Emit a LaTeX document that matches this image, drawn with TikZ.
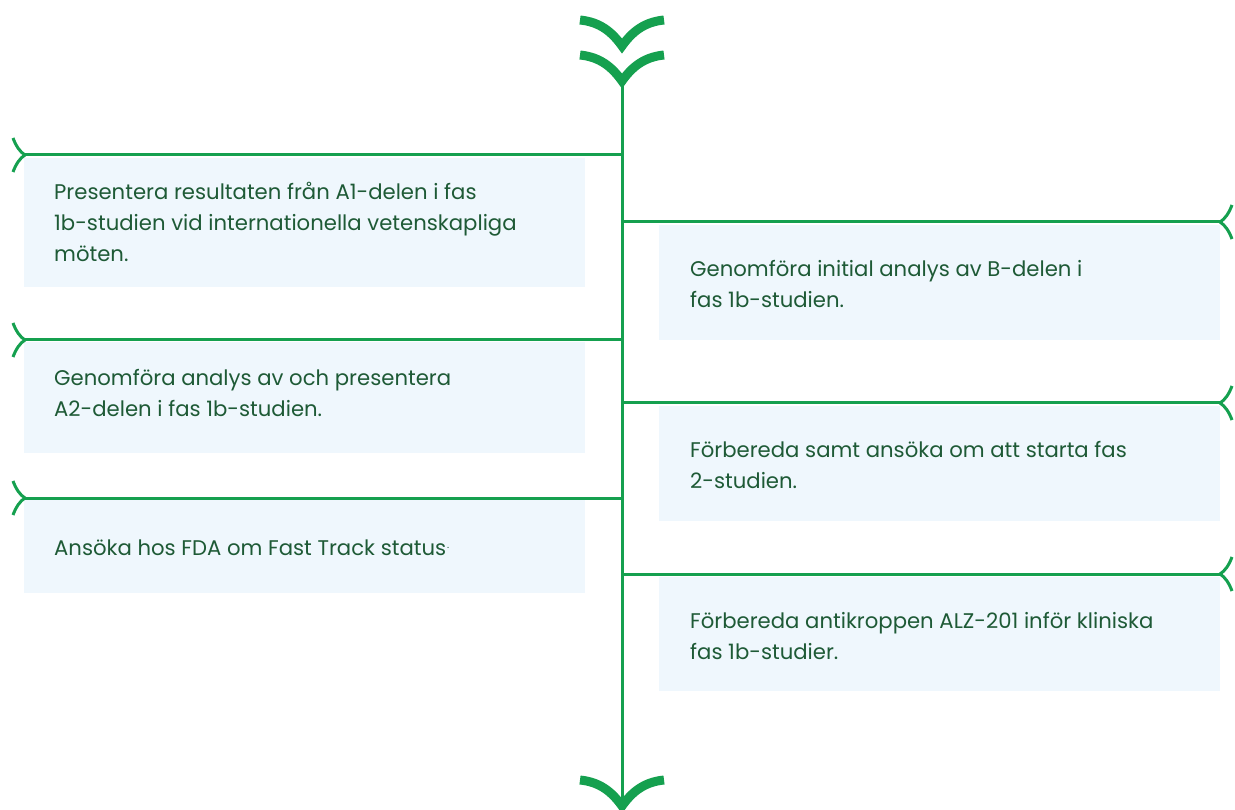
\documentclass[tikz,border=0pt]{standalone}
\usepackage{fontspec}
\setmainfont{Poppins}
\usetikzlibrary{positioning}

\definecolor{tlgreen}{HTML}{15A04F}
\definecolor{tltext}{HTML}{1E5A36}
\definecolor{tlbox}{HTML}{EFF7FD}

\tikzset{
  stem/.style={draw=tlgreen, line width=3pt},
  chev/.style={draw=tlgreen, line width=9pt, line join=miter},
  box/.style={fill=tlbox, inner sep=0pt, anchor=north west},
  % base of a multi-line node sits on its last line
  txt/.style={text=tltext, inner sep=0pt, anchor=base west, align=left,
    font=\fontsize{21.2}{31}\selectfont}
}

\begin{document}
\begin{tikzpicture}[x=1pt, y=-1pt]
\useasboundingbox (0,0) rectangle (1235,810);

% boxes
\node[box, minimum width=561pt, minimum height=129pt] (lbox1) at (24,158) {};
\node[box, minimum width=561pt, minimum height=111pt] (lbox2) at (24,342) {};
\node[box, minimum width=561pt, minimum height=93pt] (lbox3) at (24,500) {};
\node[box, minimum width=561pt, minimum height=115pt] (rbox1) at (659,225) {};
\node[box, minimum width=561pt, minimum height=115pt] (rbox2) at (659,406) {};
\node[box, minimum width=561pt, minimum height=114pt] (rbox3) at (659,577) {};

% spine with chevrons
\coordinate (top) at (622,85);
\coordinate (bot) at (622,805);
\draw[stem] (top) -- (bot);
\foreach \y in {0,35,760}
  \draw[chev] (580,20+\y) .. controls (600,22+\y) and (612,32+\y) .. (622,46+\y)
    .. controls (632,32+\y) and (644,22+\y) .. (664,20+\y);

% branches to the left
\foreach \y/\n in {155/lend1, 340/lend2, 498/lend3} {
  \coordinate (\n) at (25,\y);
  \draw[stem] (\n) -- (\n -| top);
  \draw[stem, shift={(\n)}] (-12,-17) .. controls (-9,-9) and (-5,-3) .. (0,0)
    .. controls (-5,3) and (-9,9) .. (-12,17);
}
% branches to the right
\foreach \y/\n in {222/rend1, 403/rend2, 574/rend3} {
  \coordinate (\n) at (1220,\y);
  \draw[stem] (\n -| top) -- (\n);
  \draw[stem, shift={(\n)}] (12,-17) .. controls (9,-9) and (5,-3) .. (0,0)
    .. controls (5,3) and (9,9) .. (12,17);
}

% texts
\node[txt, xshift=30pt, yshift=-104pt] (ltxt1) at (lbox1.north west)
  {Presentera resultaten från A1-delen i fas\\1b-studien vid internationella vetenskapliga\\möten.};
\node[txt, xshift=30pt, yshift=-75pt] (ltxt2) at (lbox2.north west)
  {Genomföra analys av och presentera\\A2-delen i fas 1b-studien.};
\node[txt, xshift=30pt, yshift=-55pt] (ltxt3) at (lbox3.north west)
  {Ansöka hos FDA om Fast Track status\kern1pt\raisebox{7pt}{\fontsize{10}{10}\selectfont.}};
\node[txt, xshift=31pt, yshift=-83pt] (rtxt1) at (rbox1.north west)
  {Genomföra initial analys av B-delen i\\fas 1b-studien.};
\node[txt, xshift=31pt, yshift=-82pt] (rtxt2) at (rbox2.north west)
  {Förbereda samt ansöka om att starta fas\\2-studien.};
\node[txt, xshift=31pt, yshift=-82pt] (rtxt3) at (rbox3.north west)
  {Förbereda antikroppen ALZ-201 inför kliniska\\fas 1b-studier.};
\end{tikzpicture}
\end{document}
